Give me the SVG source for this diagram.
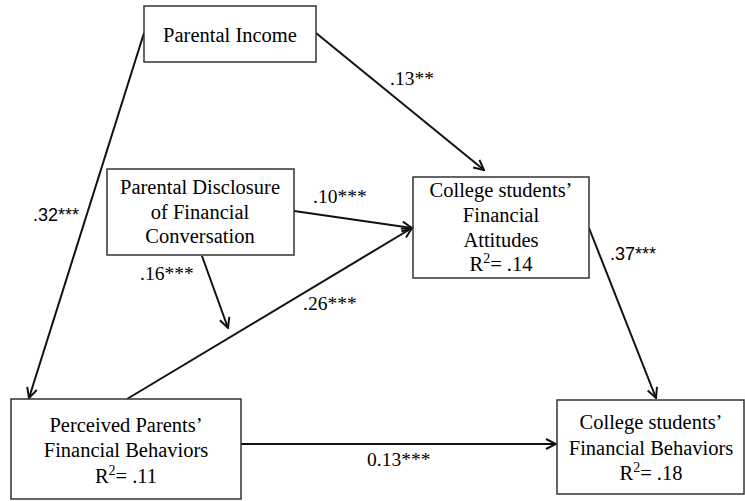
<svg xmlns="http://www.w3.org/2000/svg" width="745" height="501" viewBox="0 0 745 501">
<style>
.box{fill:#fff;stroke:#333;stroke-width:1.5}
.t{font-family:"Liberation Serif","Times New Roman",serif;font-size:20.5px;fill:#000;text-anchor:middle}
.sup{font-size:14px}
.lab{font-family:"Liberation Serif","Times New Roman",serif;font-size:19.5px;fill:#000}
.labs{font-family:"Liberation Sans",Arial,sans-serif;font-size:18px;fill:#000}
.c{stroke:#111;stroke-width:2;fill:none;marker-end:url(#ah)}
</style>
<defs>
<marker id="ah" markerUnits="userSpaceOnUse" viewBox="0 0 12 12" refX="11" refY="6" markerWidth="12" markerHeight="12" orient="auto">
<path d="M1,1 L11,6 L1,11" fill="none" stroke="#111" stroke-width="2"/>
</marker>
</defs>
<rect width="745" height="501" fill="#fff"/>
<g id="connectors">
<line class="c" x1="144" y1="33" x2="29" y2="398"/>
<line class="c" x1="316" y1="33" x2="484" y2="170"/>
<line class="c" x1="294" y1="211" x2="412" y2="228"/>
<line class="c" x1="202" y1="256" x2="228" y2="328"/>
<line class="c" x1="127" y1="399" x2="412" y2="228"/>
<line class="c" x1="589" y1="228" x2="656" y2="398"/>
<line class="c" x1="241" y1="444" x2="556" y2="444"/>
<text class="labs" x="33" y="221">.32***</text>
<text class="lab" x="390" y="85">.13**</text>
<text class="lab" x="313" y="203">.10***</text>
<text class="lab" x="140" y="280">.16***</text>
<text class="lab" x="303" y="310">.26***</text>
<text class="labs" x="610" y="260">.37***</text>
<text class="lab" x="367" y="466">0.13***</text>
</g>
<g id="parental-income">
<rect class="box" x="144" y="6" width="172" height="56"/>
<text class="t" x="230" y="42">Parental Income</text>
</g>
<g id="parental-disclosure">
<rect class="box" x="107" y="169" width="187" height="86"/>
<text class="t" x="200" y="194">Parental Disclosure</text>
<text class="t" x="200" y="219">of Financial</text>
<text class="t" x="200" y="243">Conversation</text>
</g>
<g id="financial-attitudes">
<rect class="box" x="413" y="177" width="176" height="101"/>
<text class="t" x="501" y="197">College students’</text>
<text class="t" x="501" y="222">Financial</text>
<text class="t" x="501" y="247">Attitudes</text>
<text class="t" x="501" y="271">R<tspan class="sup" dy="-8">2</tspan><tspan dy="8">= .14</tspan></text>
</g>
<g id="perceived-parents">
<rect class="box" x="11" y="399" width="230" height="100"/>
<text class="t" x="126" y="432">Perceived Parents’</text>
<text class="t" x="126" y="457">Financial Behaviors</text>
<text class="t" x="126" y="483">R<tspan class="sup" dy="-8">2</tspan><tspan dy="8">= .11</tspan></text>
</g>
<g id="financial-behaviors">
<rect class="box" x="557" y="400" width="187" height="94"/>
<text class="t" x="651" y="429">College students’</text>
<text class="t" x="651" y="455">Financial Behaviors</text>
<text class="t" x="651" y="480">R<tspan class="sup" dy="-8">2</tspan><tspan dy="8">= .18</tspan></text>
</g>
</svg>
